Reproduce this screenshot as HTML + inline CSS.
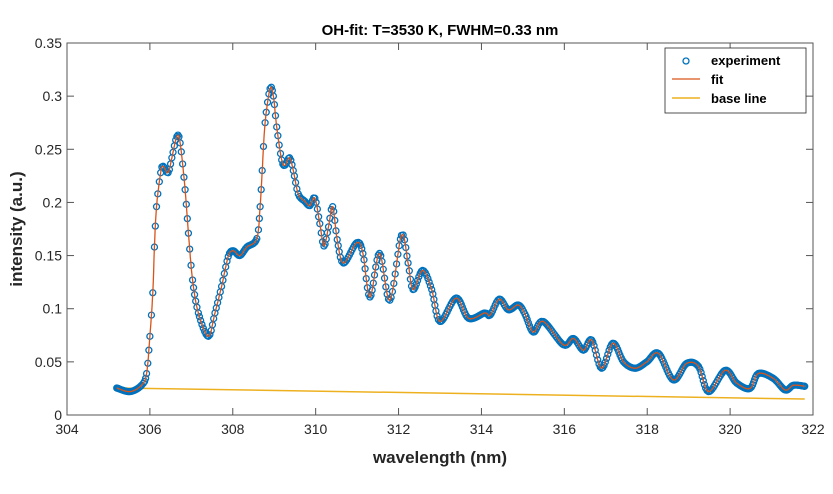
<!DOCTYPE html>
<html><head><meta charset="utf-8"><style>
body{margin:0;background:#fff}
svg text{font-family:"Liberation Sans",Arial,sans-serif}
</style></head><body>
<svg id="c" width="833" height="489" xmlns="http://www.w3.org/2000/svg"></svg>
<script>
const wl=[305.2,305.52,305.8,305.92,306.0,306.07,306.11,306.16,306.26,306.32,306.44,306.53,306.65,306.73,306.85,306.93,307.03,307.17,307.41,307.57,307.73,307.89,308.01,308.17,308.34,308.58,308.66,308.71,308.78,308.9,308.98,309.06,309.18,309.26,309.37,309.46,309.58,309.74,309.86,309.98,310.1,310.2,310.31,310.41,310.52,310.67,310.99,311.14,311.31,311.54,311.79,312.07,312.23,312.35,312.58,312.8,313.0,313.39,313.69,314.08,314.21,314.43,314.65,314.89,315.05,315.25,315.49,315.98,316.22,316.46,316.66,316.9,317.17,317.43,317.71,317.99,318.27,318.63,318.95,319.24,319.48,319.88,320.16,320.48,320.68,321.04,321.33,321.53,321.8];
const inten=[0.0254,0.022,0.028,0.039,0.074,0.115,0.158,0.196,0.228,0.234,0.228,0.242,0.262,0.256,0.212,0.171,0.127,0.096,0.074,0.096,0.121,0.149,0.1545,0.15,0.158,0.166,0.196,0.23,0.275,0.307,0.3,0.271,0.24,0.235,0.242,0.23,0.208,0.201,0.197,0.204,0.18,0.159,0.177,0.196,0.165,0.143,0.162,0.152,0.111,0.152,0.108,0.169,0.143,0.118,0.136,0.118,0.088,0.11,0.091,0.096,0.094,0.109,0.099,0.1035,0.095,0.078,0.088,0.066,0.072,0.061,0.0705,0.044,0.0675,0.05,0.044,0.05,0.058,0.033,0.0485,0.0455,0.022,0.042,0.03,0.025,0.039,0.0345,0.0235,0.028,0.027];
const baseX=[305.2,321.8];
const baseY=[0.0255,0.015];
const xTicks=[304,306,308,310,312,314,316,318,320,322];
const yTicks=[0,0.05,0.1,0.15,0.2,0.25,0.3,0.35];
const yTickLabels=['0','0.05','0.1','0.15','0.2','0.25','0.3','0.35'];
const L=67,R=813,T=43,B=415;
const X=v=>L+(v-304)/(322-304)*(R-L);
const Y=v=>B-(v/0.35)*(B-T);
const svg=document.getElementById('c');const NS='http://www.w3.org/2000/svg';
function mk(t,a,p){const e=document.createElementNS(NS,t);for(const k in a)e.setAttribute(k,a[k]);(p||svg).appendChild(e);return e;}
function samples(step){const out=[];for(let i=0;i<wl.length-1;i++){const p0=i?i-1:i,p3=i+2<wl.length?i+2:i+1;const x1=wl[i],x2=wl[i+1];const n=Math.max(1,Math.round((x2-x1)/step));for(let k=0;k<n;k++){const t=k/n;const f=(a,b,c,d)=>0.5*((2*b)+(-a+c)*t+(2*a-5*b+4*c-d)*t*t+(-a+3*b-3*c+d)*t*t*t);out.push([f(wl[p0],x1,x2,wl[p3]),f(inten[p0],inten[i],inten[i+1],inten[p3])]);}}out.push([wl[wl.length-1],inten[inten.length-1]]);return out;}
const ax=mk('g',{});
mk('rect',{x:L,y:T,width:R-L,height:B-T,fill:'#fff',stroke:'#555','stroke-width':1},ax);
xTicks.forEach(t=>{const x=X(t);mk('line',{x1:x,x2:x,y1:B,y2:B-7,stroke:'#555'},ax);mk('line',{x1:x,x2:x,y1:T,y2:T+7,stroke:'#555'},ax);const tx=mk('text',{x:x,y:B+19,'text-anchor':'middle','font-size':14,fill:'#262626'},ax);tx.textContent=t;});
yTicks.forEach((t,i)=>{const y=Y(t);mk('line',{x1:L,x2:L+7,y1:y,y2:y,stroke:'#555'},ax);mk('line',{x1:R,x2:R-7,y1:y,y2:y,stroke:'#555'},ax);const tx=mk('text',{x:L-5,y:y+5,'text-anchor':'end','font-size':14,fill:'#262626'},ax);tx.textContent=yTickLabels[i];});
const fit=samples(0.01);
const bl=mk('path',{d:'M'+X(baseX[0])+','+Y(baseY[0])+'L'+X(baseX[1])+','+Y(baseY[1]),stroke:'#EDB120',fill:'none','stroke-width':1.5});


const g=mk('g',{});


samples(0.03).forEach(p=>{mk('circle',{cx:X(p[0]),cy:Y(p[1]),r:3,fill:'none',stroke:'#0072BD','stroke-width':1.3},g);});
const fl=mk('path',{d:'M'+fit.map(p=>X(p[0]).toFixed(1)+','+Y(p[1]).toFixed(1)).join('L'),stroke:'#D95319',fill:'none','stroke-width':1.3});


const ti=mk('text',{x:440,y:35,'text-anchor':'middle','font-size':15,'font-weight':'bold',fill:'#000'});ti.textContent='OH-fit: T=3530 K, FWHM=0.33 nm';


const xl=mk('text',{x:440,y:463,'text-anchor':'middle','font-size':17,'font-weight':'bold',fill:'#262626'});xl.textContent='wavelength (nm)';


const yl=mk('text',{x:0,y:0,'text-anchor':'middle','font-size':17,'font-weight':'bold',fill:'#262626',transform:'translate(22,229) rotate(-90)'});yl.textContent='intensity (a.u.)';


const lg=mk('g',{});


mk('rect',{x:665,y:48,width:141,height:65,fill:'#fff',stroke:'#262626','stroke-width':0.8},lg);
mk('circle',{cx:686,cy:61,r:3,fill:'none',stroke:'#0072BD','stroke-width':1.3},lg);
mk('line',{x1:672,x2:700,y1:79,y2:79,stroke:'#D95319','stroke-width':1.3},lg);
mk('line',{x1:672,x2:700,y1:98,y2:98,stroke:'#EDB120','stroke-width':1.5},lg);
[['experiment',65],['fit',84],['base line',103]].forEach(a=>{const t=mk('text',{x:711,y:a[1],'font-size':13,'font-weight':'bold',fill:'#000'},lg);t.textContent=a[0];});
</script>
</body></html>
